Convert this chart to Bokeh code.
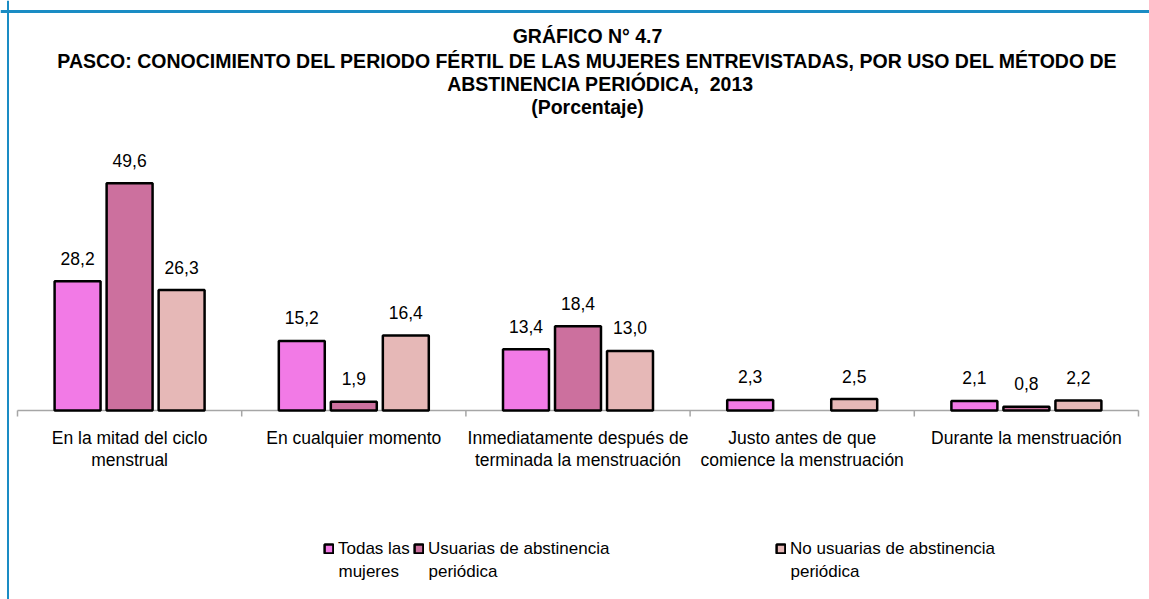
import math
from bokeh.plotting import figure
from bokeh.models import Range1d, Label, Legend, LegendItem, ColumnDataSource, Span
from bokeh.core.properties import value
from bokeh.embed import file_html
from bokeh.resources import INLINE

categories = ["En la mitad del ciclo\nmenstrual",
              "En cualquier momento",
              "Inmediatamente después de\nterminada la menstruación",
              "Justo antes de que\ncomience la menstruación",
              "Durante la menstruación"]
todas = [28.2, 15.2, 13.4, 2.3, 2.1]
usuarias = [49.6, 1.9, 18.4, float("nan"), 0.8]
no_usuarias = [26.3, 16.4, 13.0, 2.5, 2.2]

series_names = ["Todas las\nmujeres", "Usuarias de abstinencia\nperiódica",
                "No usuarias de abstinencia\nperiódica"]
series_values = [todas, usuarias, no_usuarias]
colors = ["#F27AE6", "#CC709E", "#E6B8B7"]
offsets = [-0.232, 0.0, 0.232]

title_lines = ["GRÁFICO N° 4.7",
               "PASCO: CONOCIMIENTO DEL PERIODO FÉRTIL DE LAS MUJERES ENTREVISTADAS, POR USO DEL MÉTODO DE",
               "ABSTINENCIA PERIÓDICA,\u00a0 2013",
               "(Porcentaje)"]

FONT = "'Liberation Sans', Arial, sans-serif"
W, H = 1149, 599
PX_PER_UNIT = 4.58            # vertical pixels per percentage point
X0, X1, BASE = 17, 1138, 410  # screen placement of the category axis


def fmt(v):
    return "" if math.isnan(v) else f"{v:.1f}".replace(".", ",")


n = len(categories)
centers = [i + 0.5 for i in range(n)]
bounds = [float(i) for i in range(n + 1)]
ux = (X1 - X0) / n

p = figure(width=W, height=H,
           x_range=Range1d(-X0 / ux, n + (W - X1) / ux),
           y_range=Range1d(-(H - BASE) / PX_PER_UNIT, BASE / PX_PER_UNIT),
           output_backend="svg", toolbar_location=None,
           x_axis_location=None, y_axis_location=None,
           min_border=0, min_border_left=0, min_border_right=0,
           min_border_top=0, min_border_bottom=0)
p.outline_line_color = None
p.xgrid.visible = False
p.ygrid.visible = False
p.background_fill_color = "white"
p.border_fill_color = "white"

# frame lines (blue border)
p.add_layout(Span(location=H - 11, location_units="screen", dimension="width",
                  line_color="#1A8CC4", line_width=3))
p.add_layout(Span(location=7.5, location_units="screen", dimension="height",
                  line_color="#1A8CC4", line_width=2))

# category axis: baseline and boundary ticks
tick_len = 6 / PX_PER_UNIT
p.segment(x0=[bounds[0]], y0=[0], x1=[bounds[-1]], y1=[0], line_color="#A6A6A6", line_width=1.5)
p.segment(x0=bounds, y0=[0] * len(bounds), x1=bounds, y1=[-tick_len] * len(bounds),
          line_color="#A6A6A6", line_width=1.5)

renderers = []
for name, vals, col, off in zip(series_names, series_values, colors, offsets):
    xs = [c + off for c in centers]
    src = ColumnDataSource(dict(x=xs, val=vals, lab=[fmt(v) for v in vals]))
    r = p.vbar(x="x", top="val", bottom=0, width=0.205, source=src,
               fill_color=col, line_color="black", line_width=2.5)
    renderers.append(r)
    p.text(x="x", y="val", text="lab", source=src,
           text_align="center", text_baseline="middle", y_offset=-23,
           text_font=value(FONT), text_font_size="17.5px", text_color="#000000")

# category labels
p.text(x=centers, y=[0] * n, text=categories, text_align="center", text_baseline="top",
       y_offset=17, text_line_height=1.1, text_font=value(FONT),
       text_font_size="17.5px", text_color="#000000")

# title
ys = [35, 60, 83, 106]
xs_t = [587, 587, 600, 587]
for t, xx, yy in zip(title_lines, xs_t, ys):
    p.add_layout(Label(x=xx, y=H - yy, x_units="screen", y_units="screen", text=t,
                       text_align="center", text_baseline="middle", text_font=FONT,
                       text_font_size="19.5px", text_font_style="bold", text_color="#000000"))

# legend: swatch + first line via Legend, second line as label below
leg_x = [323, 413, 775]
for name, r, lx in zip(series_names, renderers, leg_x):
    first, second = name.split("\n")
    lg = Legend(items=[LegendItem(label=first, renderers=[r])], location=(lx, H - 558.5),
                orientation="horizontal", padding=0, margin=0, spacing=0,
                glyph_width=11, glyph_height=11, label_standoff=4, label_height=20,
                label_text_font=FONT, label_text_font_size="17px",
                label_text_color="#000000", label_text_baseline="middle",
                border_line_color=None, background_fill_alpha=0)
    p.add_layout(lg)
    p.add_layout(Label(x=lx + 15, y=H - 571, x_units="screen", y_units="screen", text=second,
                       text_align="left", text_baseline="middle", text_font=FONT,
                       text_font_size="17px", text_color="#000000"))

open("out.html", "w").write(file_html(p, INLINE))
